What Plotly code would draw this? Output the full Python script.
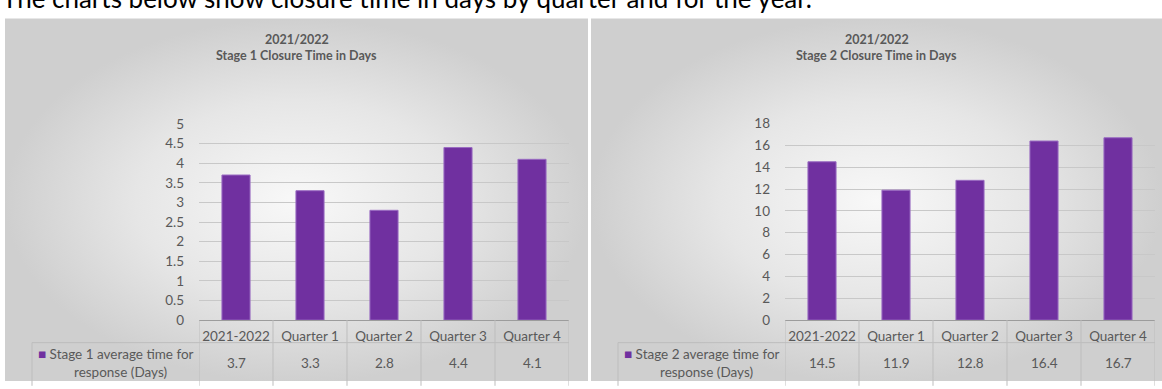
import plotly.graph_objects as go

# ---------------- data ----------------
categories = ["2021-2022", "Quarter 1", "Quarter 2", "Quarter 3", "Quarter 4"]
stage1_days = [3.7, 3.3, 2.8, 4.4, 4.1]
stage2_days = [14.5, 11.9, 12.8, 16.4, 16.7]
stage1_ticks = [0, 0.5, 1, 1.5, 2, 2.5, 3, 3.5, 4, 4.5, 5]
stage2_ticks = [0, 2, 4, 6, 8, 10, 12, 14, 16, 18]
stage1_series = ["Stage 1 average time for", "response (Days)"]
stage2_series = ["Stage 2 average time for", "response (Days)"]
header_text = "The charts below show closure time in days by quarter and for the year."

# ---------------- styling ----------------
W, H = 1162, 389
PURPLE = "#7030a0"
TXT = "#595959"
GRID = "#c8c8c8"
TLINE = "#bdbdbd"
FONT = "Lato"

def px(x):
    return x / W

def py(y):
    return (H - y) / H

fig = go.Figure()

# panel backgrounds (radial gradient) on a pixel-space background axis
panels = [(5, 588), (591, 1162)]
for x0, x1 in panels:
    fig.add_trace(go.Scatter(
        x=[x0, x1, x1, x0, x0], y=[11, 11, H + 2, H + 2, 11],
        mode="lines", line=dict(width=0), fill="toself",
        fillgradient=dict(type="radial",
                          colorscale=[[0, "#f8f8f8"], [0.55, "#e6e6e6"], [1, "#cfcfcf"]]),
        hoverinfo="skip", showlegend=False, xaxis="x", yaxis="y"))

# bars
fig.add_trace(go.Bar(x=categories, y=stage1_days, marker=dict(color=PURPLE, line=dict(color="#9a6cc2", width=1)),
                     xaxis="x2", yaxis="y2", showlegend=False))
fig.add_trace(go.Bar(x=categories, y=stage2_days, marker=dict(color=PURPLE, line=dict(color="#9a6cc2", width=1)),
                     xaxis="x3", yaxis="y3", showlegend=False))

axis_bottom = 325.5
plots = [
    dict(xa="x2", ya="y2", x0=199, x1=569, top=121, rng=[0, 5], ticks=stage1_ticks,
         vals=stage1_days, series=stage1_series, panel=panels[0],
         title1="2021/2022", title2="Stage 1 Closure Time in Days"),
    dict(xa="x3", ya="y3", x0=785, x1=1155, top=120.5, rng=[0, 18], ticks=stage2_ticks,
         vals=stage2_days, series=stage2_series, panel=panels[1],
         title1="2021/2022", title2="Stage 2 Closure Time in Days"),
]

layout_axes = {}
layout_axes["xaxis"] = dict(domain=[0, 1], range=[0, W], visible=False, fixedrange=True)
layout_axes["yaxis"] = dict(domain=[0, 1], range=[H, 0], visible=False, fixedrange=True)

shapes = []
annotations = []
for p in plots:
    xname = "xaxis" + p["xa"][1:]
    yname = "yaxis" + p["ya"][1:]
    layout_axes[xname] = dict(
        domain=[px(p["x0"]), px(p["x1"])], anchor=p["ya"], type="category",
        range=[-0.5, 4.5], showline=True, linecolor="#9c9c9c", linewidth=1,
        showgrid=False, ticks="", tickfont=dict(family=FONT, size=13.5, color=TXT),
        ticklabelstandoff=4)
    layout_axes[yname] = dict(
        domain=[py(axis_bottom), py(p["top"])], anchor=p["xa"], range=p["rng"],
        tickvals=p["ticks"], ticktext=[str(t) for t in p["ticks"]],
        showgrid=True, gridcolor=GRID, gridwidth=1, zeroline=False, showline=False,
        ticks="", tickfont=dict(family=FONT, size=13.5, color=TXT), ticklabelstandoff=14)

    # data-table lines
    for i in range(len(categories) + 1):
        shapes.append(dict(type="line", xref=p["xa"], yref="paper", x0=i - 0.5, x1=i - 0.5,
                           y0=py(axis_bottom), y1=py(H + 5), line=dict(color=TLINE, width=1)))
    leg_left = p["panel"][0] + 27
    shapes.append(dict(type="line", xref="paper", yref="paper", x0=px(leg_left), x1=px(p["x1"]),
                       y0=py(349), y1=py(349), line=dict(color=TLINE, width=1)))
    shapes.append(dict(type="line", xref="paper", yref="paper", x0=px(leg_left), x1=px(leg_left),
                       y0=py(349), y1=py(H + 5), line=dict(color=TLINE, width=1)))

    # values row
    for c, v in zip(categories, p["vals"]):
        annotations.append(dict(x=c, xref=p["xa"], xanchor="center", y=py(370), yref="paper",
                                yanchor="middle", text=str(v), showarrow=False,
                                font=dict(family=FONT, size=13.5, color=TXT)))
    # legend cell
    annotations.append(dict(
        x=px(p["panel"][0] + 110.5), xref="paper", xanchor="center",
        y=py(360.7), yref="paper", yanchor="middle",
        text="<span style='color:%s'>■</span> %s" % (PURPLE, p["series"][0]),
        showarrow=False, font=dict(family=FONT, size=13.5, color=TXT)))
    annotations.append(dict(
        x=px(p["panel"][0] + 115.5), xref="paper", xanchor="center",
        y=py(380), yref="paper", yanchor="middle", text=p["series"][1],
        showarrow=False, font=dict(family=FONT, size=13.5, color=TXT)))
    # titles
    cx = px((p["panel"][0] + p["panel"][1]) / 2)
    annotations.append(dict(x=cx, xref="paper", xanchor="center", y=py(33), yref="paper",
                            yanchor="middle", text="<b>%s</b>" % p["title1"], showarrow=False,
                            font=dict(family=FONT, size=12.5, color=TXT)))
    annotations.append(dict(x=cx, xref="paper", xanchor="center", y=py(50), yref="paper",
                            yanchor="middle", text="<b>%s</b>" % p["title2"], showarrow=False,
                            font=dict(family=FONT, size=12.5, color=TXT)))

annotations.append(dict(x=0, xref="paper", xanchor="left", y=py(0), yref="paper",
                        yanchor="middle", yshift=10, text=header_text, showarrow=False,
                        font=dict(family=FONT, size=26, color="#000000")))

fig.update_layout(
    width=W, height=H, margin=dict(l=0, r=0, t=0, b=0),
    paper_bgcolor="white", plot_bgcolor="rgba(0,0,0,0)",
    bargap=0.62, shapes=shapes, annotations=annotations,
    **layout_axes)

fig.write_html("out.html")
